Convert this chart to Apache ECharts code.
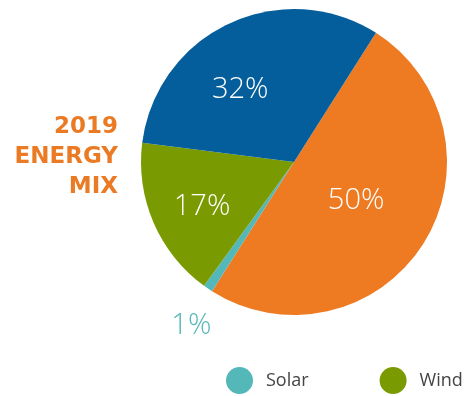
<!DOCTYPE html>
<html>
<head>
<meta charset="utf-8">
<script src="https://cdn.jsdelivr.net/npm/echarts@6/dist/echarts.min.js"></script>
<style>
html,body{margin:0;padding:0;background:#fff;}
#chart{width:465px;height:396px;}
</style>
</head>
<body>
<div id="chart"></div>
<script>
const categories = ['Natural Gas', 'Solar', 'Wind', 'Coal'];
const shares = [50, 1, 17, 32];
const sliceColors = ['#EE7B22', '#54B7B8', '#7A9A01', '#045E9B'];
const legendItems = ['Solar', 'Wind'];
const titleText = '2019\nENERGY\nMIX';

const chart = echarts.init(document.getElementById('chart'));
const labelNudge = { 0: [-5, -4], 1: [-58, 98], 2: [-19, 13], 3: [-20, 0] };

chart.setOption({
  animation: false,
  title: {
    text: titleText,
    left: 118,
    top: 112,
    textAlign: 'right',
    padding: 0,
    textStyle: {
      fontFamily: 'DejaVu Sans',
      fontWeight: 'bold',
      fontSize: 23,
      lineHeight: 30,
      color: '#EB7A24'
    }
  },
  legend: {
    data: legendItems,
    left: 226,
    top: 367,
    icon: 'circle',
    itemWidth: 27,
    itemHeight: 27,
    itemGap: 71,
    padding: 0,
    selectedMode: false,
    textStyle: {
      fontFamily: 'Open Sans',
      fontSize: 18,
      color: '#444',
      padding: [0, 0, 0, 8]
    }
  },
  series: [{
    type: 'pie',
    center: [294, 162],
    radius: [0, 153],
    startAngle: 57.6,
    clockwise: true,
    avoidLabelOverlap: false,
    label: {
      show: true,
      position: 'inside',
      formatter: '{c}%',
      color: '#fff',
      fontFamily: 'Open Sans',
      fontWeight: 300,
      fontSize: 29
    },
    labelLine: { show: false },
    labelLayout: function (p) {
      const n = labelNudge[p.dataIndex] || [0, 0];
      return { dx: n[0], dy: n[1] };
    },
    emphasis: { disabled: true },
    data: categories.map((name, i) => ({
      name: name,
      value: shares[i],
      itemStyle: { color: sliceColors[i] },
      label: name === 'Solar' ? { color: '#54B7B8' } : undefined
    }))
  }]
});
</script>
</body>
</html>
